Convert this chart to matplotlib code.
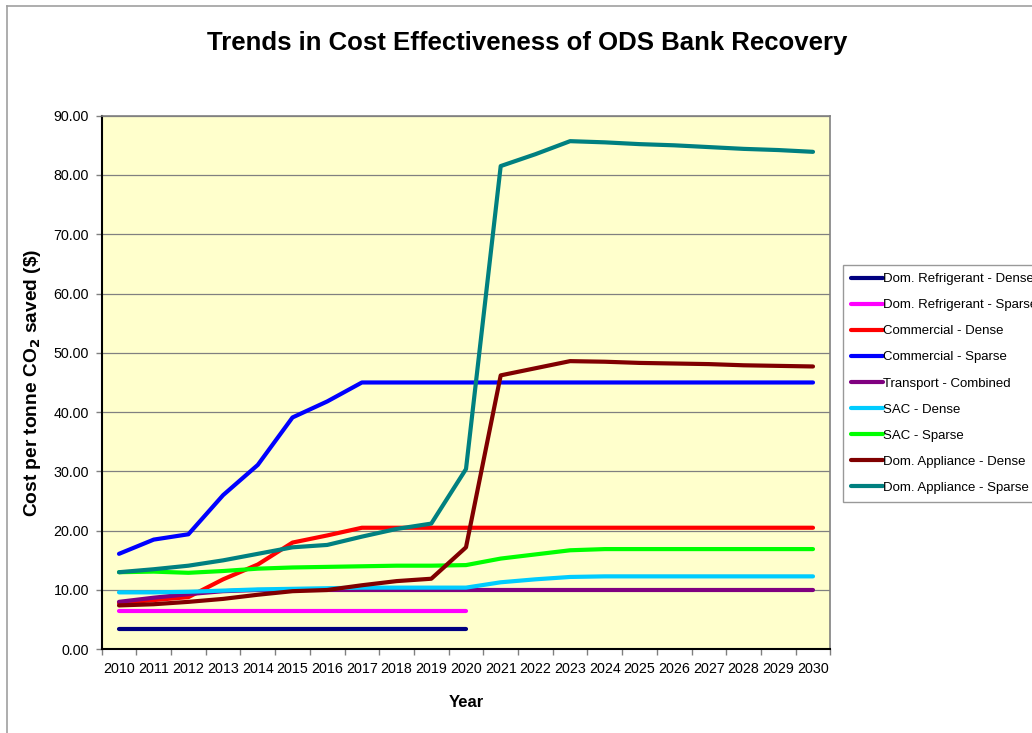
import numpy as np
import matplotlib.pyplot as plt
from matplotlib.lines import Line2D

plt.rcParams['font.family'] = ['Liberation Sans', 'DejaVu Sans']

# Categories
years = ['2010', '2011', '2012', '2013', '2014', '2015', '2016', '2017', '2018', '2019', '2020',
         '2021', '2022', '2023', '2024', '2025', '2026', '2027', '2028', '2029', '2030']

# Series values (cost per tonne CO2 saved, $)
dom_ref_dense = [3.4, 3.4, 3.4, 3.4, 3.4, 3.4, 3.4, 3.4, 3.4, 3.4, 3.4,
                 None, None, None, None, None, None, None, None, None, None]
dom_ref_sparse = [6.4, 6.4, 6.4, 6.4, 6.4, 6.4, 6.4, 6.4, 6.4, 6.4, 6.4,
                  None, None, None, None, None, None, None, None, None, None]
commercial_dense = [7.8, 8.3, 8.8, 11.8, 14.3, 18.0, 19.2, 20.5, 20.5, 20.5, 20.5,
                    20.5, 20.5, 20.5, 20.5, 20.5, 20.5, 20.5, 20.5, 20.5, 20.5]
commercial_sparse = [16.1, 18.5, 19.4, 26.0, 31.1, 39.1, 41.8, 45.0, 45.0, 45.0, 45.0,
                     45.0, 45.0, 45.0, 45.0, 45.0, 45.0, 45.0, 45.0, 45.0, 45.0]
transport = [8.0, 8.7, 9.3, 9.8, 10.0, 10.0, 10.0, 10.0, 10.0, 10.0, 10.0,
             10.0, 10.0, 10.0, 10.0, 10.0, 10.0, 10.0, 10.0, 10.0, 10.0]
sac_dense = [9.6, 9.6, 9.7, 9.9, 10.1, 10.2, 10.3, 10.4, 10.4, 10.4, 10.4,
             11.3, 11.8, 12.2, 12.3, 12.3, 12.3, 12.3, 12.3, 12.3, 12.3]
sac_sparse = [13.0, 13.1, 12.9, 13.2, 13.6, 13.8, 13.9, 14.0, 14.1, 14.1, 14.2,
              15.3, 16.0, 16.7, 16.9, 16.9, 16.9, 16.9, 16.9, 16.9, 16.9]
dom_app_dense = [7.4, 7.6, 8.0, 8.5, 9.2, 9.8, 10.0, 10.8, 11.5, 11.9, 17.2,
                 46.2, 47.4, 48.6, 48.5, 48.3, 48.2, 48.1, 47.9, 47.8, 47.7]
dom_app_sparse = [13.0, 13.5, 14.1, 15.0, 16.1, 17.2, 17.6, 19.0, 20.3, 21.2, 30.4,
                  81.5, 83.5, 85.7, 85.5, 85.2, 85.0, 84.7, 84.4, 84.2, 83.9]

series_names = ['Dom. Refrigerant - Dense', 'Dom. Refrigerant - Sparse', 'Commercial - Dense',
                'Commercial - Sparse', 'Transport - Combined', 'SAC - Dense', 'SAC - Sparse',
                'Dom. Appliance - Dense', 'Dom. Appliance - Sparse']
series_values = [dom_ref_dense, dom_ref_sparse, commercial_dense, commercial_sparse, transport,
                 sac_dense, sac_sparse, dom_app_dense, dom_app_sparse]
series_colors = ['#000080', '#FF00FF', '#FF0000', '#0000FF', '#800080',
                 '#00CCFF', '#00FF00', '#800000', '#008080']

# Figure
fig = plt.figure(figsize=(10.32, 7.33), dpi=100)
ax = fig.add_axes([0.0985, 0.1142, 0.7061, 0.728])
ax.set_facecolor('#FFFFCC')

x = np.arange(len(years))
for name, vals, col in zip(series_names, series_values, series_colors):
    v = np.array(vals, dtype=float)
    ok = ~np.isnan(v)
    ax.plot(x[ok], v[ok], color=col, linewidth=3, label=name, solid_capstyle='round')

# Axes ranges and ticks
ax.set_ylim(0, 90)
ax.set_xlim(-0.5, len(years) - 0.5)
ax.set_yticks(np.arange(0, 91, 10))
ax.set_yticklabels(['{:.2f}'.format(v) for v in np.arange(0, 91, 10)], fontsize=10.3)
ax.set_xticks(np.arange(-0.5, len(years), 1.0))
ax.set_xticklabels([])
ax.set_xticks(x, minor=True)
ax.set_xticklabels(years, minor=True, fontsize=10.3)
ax.tick_params(axis='x', which='major', direction='out', length=4, width=1, color='#808080')
ax.tick_params(axis='x', which='minor', length=0, pad=9)
ax.tick_params(axis='y', direction='out', length=4, width=1, color='#808080', pad=5)

# Grid lines
ax.yaxis.grid(True, color='#808080', linewidth=0.9)
ax.set_axisbelow(True)

# Spines
for s in ['left', 'bottom']:
    ax.spines[s].set_color('black')
    ax.spines[s].set_linewidth(1.5)
for s in ['top', 'right']:
    ax.spines[s].set_color('#808080')
    ax.spines[s].set_linewidth(1.2)

# Labels
ax.set_xlabel('Year', fontsize=12, fontweight='bold')
ax.xaxis.set_label_coords(0.5, -0.0856)
ax.set_ylabel(r'Cost per tonne CO$_\mathbf{2}$ saved (\$)', fontsize=13.8, fontweight='bold')
ax.yaxis.set_label_coords(-0.0806, 0.5)

fig.text(0.511, 0.941, 'Trends in Cost Effectiveness of ODS Bank Recovery',
         ha='center', va='center', fontsize=18.5, fontweight='bold')

# Legend
leg = ax.legend(loc='upper left', bbox_to_anchor=(843 / 1032, 1 - 265 / 733),
                bbox_transform=fig.transFigure, fontsize=9.5, frameon=True, fancybox=False,
                handlelength=2.4, handletextpad=0.0, labelspacing=1.05, borderpad=0.6,
                borderaxespad=0)
leg.get_frame().set_edgecolor('#808080')
leg.get_frame().set_linewidth(1)

# Chart area border (left and top)
fig.add_artist(Line2D([7 / 1032, 7 / 1032], [0, 1 - 6 / 733], color='#A0A0A0', linewidth=1.2))
fig.add_artist(Line2D([7 / 1032, 1], [1 - 6 / 733, 1 - 6 / 733], color='#A0A0A0', linewidth=1.2))

plt.savefig('out.png', dpi=100)
